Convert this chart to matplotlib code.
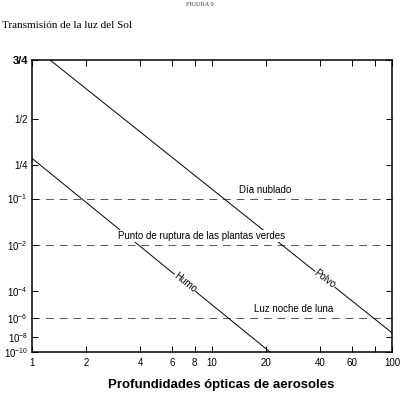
import matplotlib.pyplot as plt
import numpy as np

plt.rcParams['font.family'] = ['Liberation Sans', 'DejaVu Sans']
plt.rcParams['mathtext.fontset'] = 'custom'
plt.rcParams['mathtext.rm'] = 'Liberation Sans'
plt.rcParams['mathtext.it'] = 'Liberation Sans:italic'
plt.rcParams['mathtext.bf'] = 'Liberation Sans:bold'

# aerosol optical depth (x) vs sunlight transmission (y)
humo_x = [1.0, 21.0]
humo_t = [0.284, 1e-10]
polvo_x = [1.26, 100.0]
polvo_t = [0.75, 3.2e-8]

levels = [1e-1, 1e-2, 1e-6]
level_names = ["Día nublado", "Punto de ruptura de las plantas verdes", "Luz noche de luna"]
level_label_x = [19.7, 8.7, 28.4]

y_ticks = [0.75, 0.5, 0.25, 1e-1, 1e-2, 1e-4, 1e-6, 1e-8, 1e-10]
y_labels = ["3/4", "1/2", "1/4", r"$\mathregular{10^{-1}}$", r"$\mathregular{10^{-2}}$",
            r"$\mathregular{10^{-4}}$", r"$\mathregular{10^{-6}}$", r"$\mathregular{10^{-8}}$",
            r"$\mathregular{10^{-10}}$"]
x_ticks = [1, 2, 4, 6, 8, 10, 20, 40, 60, 80, 100]
x_labels = ["1", "2", "4", "6", "8", "10", "20", "40", "60", "", "100"]


def tau(t):
    # the y axis is drawn as -ln(T) on a log scale
    return -np.log(np.asarray(t, dtype=float))


def on_line(xs, ts, x):
    # point of a straight log-log segment at x, for placing the curve name on it
    lx = np.log10(xs)
    ly = np.log10(tau(ts))
    return 10 ** np.interp(np.log10(x), lx, ly)


fig = plt.figure(figsize=(4, 3.95), dpi=100)
ax = fig.add_axes([0.08, 1 - 352 / 395, 0.9, 292 / 395])
ax.set_xscale('log')
ax.set_yscale('log')
ax.set_xlim(1, 100)
ax.set_ylim(tau(1e-10), tau(0.75))

ax.plot(humo_x, tau(humo_t), color='black', lw=0.7, zorder=2)
ax.plot(polvo_x, tau(polvo_t), color='black', lw=0.7, zorder=2)

for lv, name, lx in zip(levels, level_names, level_label_x):
    ax.axhline(tau(lv), color='#555555', lw=0.7, linestyle=(0, (8, 6)), zorder=1)
    ax.annotate(name, (lx, tau(lv)), xytext=(0, 2.5), textcoords='offset points',
                ha='center', va='bottom', fontsize=7,
                bbox=dict(facecolor='white', edgecolor='none', pad=0.6), zorder=3)

ax.text(7.08, on_line(humo_x, humo_t, 7.08), "Humo", fontsize=7, rotation=-38,
        rotation_mode='anchor', ha='center', va='center',
        bbox=dict(facecolor='white', edgecolor='none', pad=0.3), zorder=3)
ax.text(42.4, on_line(polvo_x, polvo_t, 42.4), "Polvo", fontsize=7, rotation=-37,
        rotation_mode='anchor', ha='center', va='center',
        bbox=dict(facecolor='white', edgecolor='none', pad=0.3), zorder=3)

ax.set_xticks(x_ticks)
ax.set_xticklabels(x_labels)
ax.set_yticks(tau(y_ticks))
ax.set_yticklabels(y_labels)
ax.minorticks_off()
ax.tick_params(direction='in', top=True, right=True, length=4.5, width=0.7,
               labelsize=7, pad=4)
ax.tick_params(axis='y', pad=3)
ax.get_yticklabels()[0].set_fontweight('bold')
ax.get_yticklabels()[0].set_fontsize(8)
for s in ax.spines.values():
    s.set_linewidth(1.1)

fig.text(221 / 400, 1 - 385 / 395, "Profundidades ópticas de aerosoles",
         ha='center', va='center', fontsize=9.5, fontweight='bold')
fig.text(0.005, 1 - 25 / 395, "Transmisión de la luz del Sol", ha='left', va='center',
         fontsize=8, family='Liberation Serif')
fig.text(0.5, 1 - 4 / 395, "FIGURA 9", ha='center', va='center', fontsize=4.5,
         family='Liberation Serif', color='#333333')

fig.savefig("out.png", dpi=100)
